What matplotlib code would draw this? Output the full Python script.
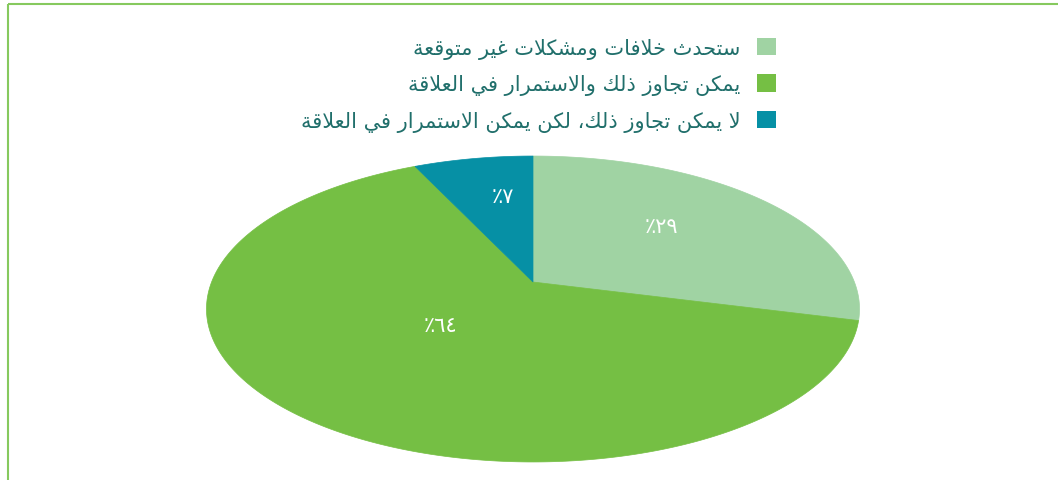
import numpy as np
import matplotlib
matplotlib.use("Agg")
import matplotlib.pyplot as plt
from matplotlib.patches import Polygon, Patch

# data
categories = [
    "ستحدث خلافات ومشكلات غير متوقعة",
    "يمكن تجاوز ذلك والاستمرار في العلاقة",
    "لا يمكن تجاوز ذلك، لكن يمكن الاستمرار في العلاقة",
]
shares = [29, 64, 7]
colors = ["#a0d3a3", "#75bf44", "#0690a5"]

# label placement inside each slice (fraction of radius, angle nudge in deg)
label_r = [0.59, 0.39, 0.655]
label_shift = [5.5, -5.3, -3.5]

text_color = "#206f6b"
frame_color = "#86c95e"

# matplotlib has no arabic shaping / bidi, so do it by hand
DUAL = {'ب': 0xFE8F, 'ت': 0xFE95, 'ث': 0xFE99, 'ج': 0xFE9D, 'ح': 0xFEA1,
        'خ': 0xFEA5, 'س': 0xFEB1, 'ش': 0xFEB5, 'ص': 0xFEB9, 'ض': 0xFEBD,
        'ط': 0xFEC1, 'ظ': 0xFEC5, 'ع': 0xFEC9, 'غ': 0xFECD, 'ف': 0xFED1,
        'ق': 0xFED5, 'ك': 0xFED9, 'ل': 0xFEDD, 'م': 0xFEE1, 'ن': 0xFEE5,
        'ه': 0xFEE9, 'ي': 0xFEF1}
RIGHT = {'ا': 0xFE8D, 'ة': 0xFE93, 'د': 0xFEA9, 'ذ': 0xFEAB, 'ر': 0xFEAD,
         'ز': 0xFEAF, 'و': 0xFEED}


def shape(s):
    out = []
    i = 0
    n = len(s)
    while i < n:
        c = s[i]
        joins_prev = i > 0 and s[i - 1] in DUAL
        if c == 'ل' and i + 1 < n and s[i + 1] == 'ا':
            out.append(chr(0xFEFC if joins_prev else 0xFEFB))
            i += 2
            continue
        nxt = s[i + 1] if i + 1 < n else ''
        joins_next = nxt in DUAL or nxt in RIGHT
        if c in DUAL:
            base = DUAL[c]
            if joins_prev and joins_next:
                code = base + 3
            elif joins_prev:
                code = base + 1
            elif joins_next:
                code = base + 2
            else:
                code = base
            out.append(chr(code))
        elif c in RIGHT:
            out.append(chr(RIGHT[c] + (1 if joins_prev else 0)))
        else:
            out.append(c)
        i += 1
    return ''.join(reversed(out))


def arabic_pct(v):
    digits = str(v).translate(str.maketrans("0123456789", "٠١٢٣٤٥٦٧٨٩"))
    return "٪" + digits


# perspective of the tilted pie (pixel coords)
cx, cy = 533, 283
A, B, k = 321.4, 148.2, 0.1765


def project(u, v):
    w = 1 + k * v
    return cx + A * u / w, cy - B * v / w


fig = plt.figure(figsize=(10.58, 4.81), dpi=100)
ax = fig.add_axes([0, 0, 1, 1])

wedges, _ = ax.pie(shares, colors=colors, startangle=90, counterclock=False)
angles = [(w.theta1, w.theta2) for w in wedges]
for w in wedges:
    w.remove()

ax.set_aspect('auto')
ax.set_xlim(0, 1058)
ax.set_ylim(481, 0)
ax.axis('off')

for (t1, t2), col, val, r, dt in zip(angles, colors, shares, label_r, label_shift):
    th = np.radians(np.linspace(t1, t2, 300))
    u = np.concatenate([[0], np.cos(th)])
    v = np.concatenate([[0], np.sin(th)])
    px, py = project(u, v)
    ax.add_patch(Polygon(np.column_stack([px, py]), closed=True,
                         facecolor=col, edgecolor=col, linewidth=0.5))
    mid = np.radians((t1 + t2) / 2 + dt)
    lx, ly = project(r * np.cos(mid), r * np.sin(mid))
    ax.text(lx, ly, arabic_pct(val), color="white", fontsize=15,
            family="DejaVu Sans", ha="center", va="center")

# frame
ax.plot([8, 8], [5, 481], color=frame_color, lw=1.5, solid_capstyle="butt")
ax.plot([8, 1058], [5, 5], color=frame_color, lw=1.5, solid_capstyle="butt")

handles = [Patch(facecolor=c, edgecolor="none") for c in colors]
fig.legend(handles, [shape(t) for t in categories], loc="upper right",
           bbox_to_anchor=(776 / 1058, 1 - 38.5 / 481), frameon=False,
           markerfirst=False, handlelength=0.92, handleheight=0.92,
           handletextpad=0.8, labelspacing=0.75, borderaxespad=0,
           borderpad=0, prop={"family": "DejaVu Sans", "size": 15},
           labelcolor=text_color)

fig.savefig("out.png", dpi=100)
